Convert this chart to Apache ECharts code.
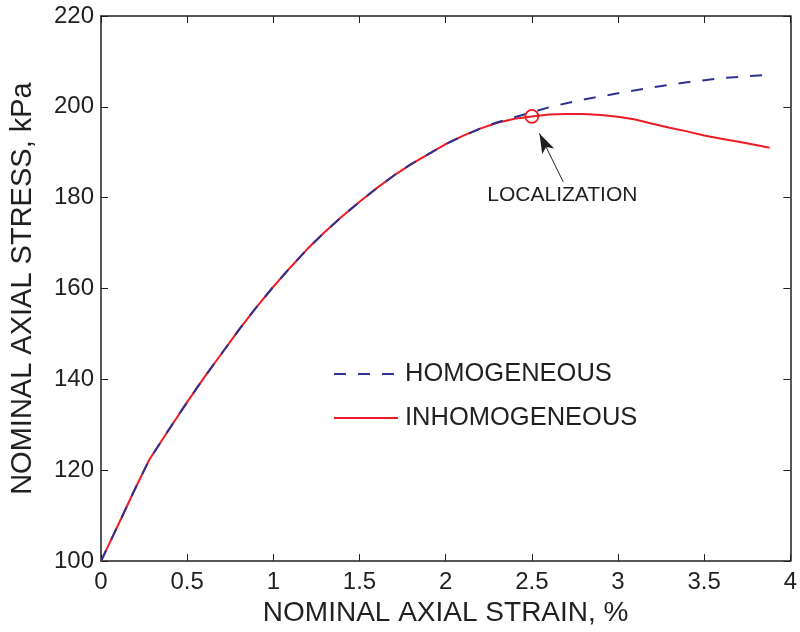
<!DOCTYPE html>
<html>
<head>
<meta charset="utf-8">
<script src="https://cdn.jsdelivr.net/npm/echarts@6/dist/echarts.min.js"></script>
<style>
html,body{margin:0;padding:0;background:#fff;}
#chart{width:800px;height:632px;}
</style>
</head>
<body>
<div id="chart"></div>
<script>
// ---- data ----
const strainInhomo = [0, 0.1, 0.2, 0.28, 0.4, 0.5, 0.6, 0.7, 0.8, 0.9, 1.0, 1.1, 1.2, 1.3, 1.4, 1.5, 1.6, 1.7, 1.8, 1.9, 2.0, 2.1, 2.2, 2.3, 2.4, 2.5, 2.6, 2.7, 2.8, 2.9, 3.0, 3.1, 3.2, 3.3, 3.4, 3.5, 3.6, 3.7, 3.8, 3.88];
const stressInhomo = [100, 108.0, 116.1, 122.3, 129.3, 135.0, 140.5, 145.7, 150.9, 155.8, 160.4, 164.7, 168.8, 172.5, 175.9, 179.1, 182.1, 184.9, 187.4, 189.6, 191.8, 193.6, 195.2, 196.5, 197.4, 197.9, 198.3, 198.4, 198.4, 198.2, 197.8, 197.2, 196.3, 195.4, 194.6, 193.7, 193.0, 192.3, 191.6, 191.0];
const strainHomo = [0, 0.1, 0.2, 0.28, 0.4, 0.5, 0.6, 0.7, 0.8, 0.9, 1.0, 1.1, 1.2, 1.3, 1.4, 1.5, 1.6, 1.7, 1.8, 1.9, 2.0, 2.1, 2.2, 2.3, 2.4, 2.5, 2.6, 2.7, 2.8, 2.9, 3.0, 3.2, 3.4, 3.6, 3.88];
const stressHomo = [100, 108.0, 116.1, 122.3, 129.3, 135.0, 140.5, 145.7, 150.9, 155.8, 160.4, 164.7, 168.8, 172.5, 175.9, 179.1, 182.1, 184.9, 187.4, 189.6, 191.8, 193.6, 195.2, 196.6, 197.7, 198.8, 199.9, 200.8, 201.6, 202.3, 203.0, 204.3, 205.4, 206.3, 207.1];
const seriesNames = ['HOMOGENEOUS', 'INHOMOGENEOUS'];
const localizationPoint = [2.5, 197.9];
const localizationLabel = 'LOCALIZATION';
const localizationLabelAt = [2.677, 180.6];
const arrowFrom = [2.682, 183.5];
const arrowTo = [2.544, 194.15];
const xAxisName = 'NOMINAL AXIAL STRAIN, %';
const yAxisName = 'NOMINAL AXIAL STRESS, kPa';

const FONT = "'Liberation Sans', Arial, Helvetica, sans-serif";
const TXT = '#231f20';
const BLUE = '#2e3192';
const RED = '#ed1c24';

const zip = (xs, ys) => xs.map((x, i) => [x, ys[i]]);

const axisCommon = {
  axisLine: { show: true, onZero: false, lineStyle: { color: TXT, width: 1.5 } },
  axisTick: { show: true, inside: true, length: 7, lineStyle: { color: TXT, width: 1 } },
  splitLine: { show: false }
};

const chart = echarts.init(document.getElementById('chart'), null, { renderer: 'canvas' });
chart.setOption({
  animation: false,
  backgroundColor: '#fff',
  textStyle: { fontFamily: FONT },
  grid: { left: 98, right: 8, top: 16, bottom: 68 },
  legend: {
    data: seriesNames,
    orient: 'vertical',
    left: 333,
    top: 360,
    padding: 0,
    itemWidth: 64,
    itemHeight: 14,
    itemGap: 16,
    itemStyle: { opacity: 0 },
    textStyle: { fontFamily: FONT, fontSize: 25.5, color: TXT, lineHeight: 28, padding: [0, 0, 0, 2] }
  },
  xAxis: [
    Object.assign({}, axisCommon, {
      type: 'value', min: 0, max: 4, interval: 0.5, position: 'bottom',
      name: xAxisName, nameLocation: 'middle', nameGap: 35,
      nameTextStyle: { fontFamily: FONT, fontSize: 28, color: TXT },
      axisLabel: { fontFamily: FONT, fontSize: 24, color: TXT, margin: 9 }
    }),
    Object.assign({}, axisCommon, {
      type: 'value', min: 0, max: 4, interval: 0.5, position: 'top',
      axisLabel: { show: false }
    })
  ],
  yAxis: [
    Object.assign({}, axisCommon, {
      type: 'value', min: 100, max: 220, interval: 20, position: 'left',
      name: yAxisName, nameLocation: 'middle', nameGap: 64,
      nameTextStyle: { fontFamily: FONT, fontSize: 29, color: TXT },
      axisLabel: { fontFamily: FONT, fontSize: 24, color: TXT, margin: 7 }
    }),
    Object.assign({}, axisCommon, {
      type: 'value', min: 100, max: 220, interval: 20, position: 'right',
      axisLabel: { show: false }
    })
  ],
  series: [
    {
      name: seriesNames[1],
      type: 'line',
      data: zip(strainInhomo, stressInhomo),
      showSymbol: false,
      symbol: 'none',
      lineStyle: { color: RED, width: 2 },
      itemStyle: { color: RED },
      z: 2,
      markPoint: {
        silent: true,
        data: [
          {
            coord: localizationPoint,
            symbol: 'circle',
            symbolSize: 13,
            itemStyle: { color: 'rgba(0,0,0,0)', borderColor: RED, borderWidth: 1.8 },
            label: { show: false }
          },
          {
            coord: localizationLabelAt,
            symbol: 'circle',
            symbolSize: 0,
            label: {
              show: true, position: 'inside', formatter: localizationLabel,
              fontFamily: FONT, fontSize: 21, color: TXT
            }
          }
        ]
      },
      markLine: {
        silent: true,
        symbol: ['none', 'arrow'],
        label: { show: false },
        lineStyle: { color: TXT, width: 1, type: 'solid' },
        itemStyle: { color: TXT },
        data: [[
          { coord: arrowFrom, symbol: 'none', symbolSize: 1 },
          { coord: arrowTo, symbol: 'arrow', symbolSize: [10, 20] }
        ]]
      }
    },
    {
      name: seriesNames[0],
      type: 'line',
      data: zip(strainHomo, stressHomo),
      showSymbol: false,
      symbol: 'none',
      lineStyle: { color: BLUE, width: 2, type: [12, 12] },
      itemStyle: { color: BLUE },
      z: 3
    }
  ]
});
</script>
</body>
</html>
